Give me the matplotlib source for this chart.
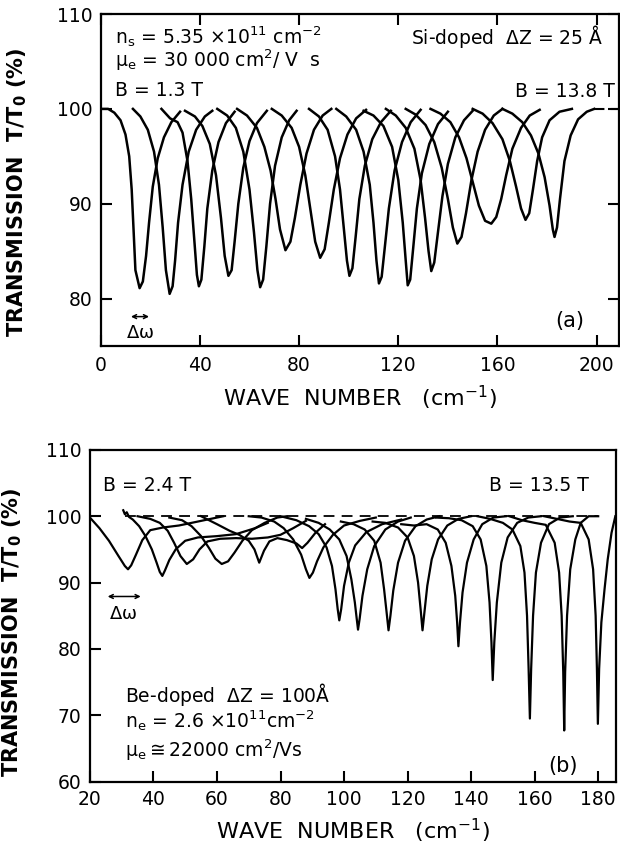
import matplotlib
matplotlib.use("Agg")
import matplotlib.pyplot as plt

plt.rcParams['font.family'] = ['DejaVu Sans']
plt.rcParams['mathtext.default'] = 'regular'

# ---- panel (a): Si-doped, dZ = 25 A, B = 1.3 T ... 13.8 T
a_wn = [
    [0, 3, 5.5, 8, 10, 11.5, 12.5, 13.3, 14, 15.7, 17, 18.3, 19.5, 21, 23, 25.5, 28.5, 32],
    [13, 16, 19, 21.5, 23.5, 25, 26.3, 27.8, 29, 30, 31.2, 33, 35.5, 38.5, 42, 45],
    [24.5, 28, 31, 33, 35, 36.5, 37.8, 38.8, 39.6, 40.6, 41.8, 43, 45, 47.5, 50.5, 54],
    [34, 38, 41, 44, 46.5, 48.5, 50, 51.5, 52.8, 54, 55.5, 57.5, 60, 63, 67],
    [47, 51, 54.5, 57.5, 60, 61.8, 63.2, 64.3, 65.5, 66.8, 68.3, 70.3, 73, 76, 79],
    [55, 59, 63, 66, 68.5, 70.5, 72.3, 74.5, 76.5, 78.3, 80.5, 83, 86, 89.5, 93],
    [69, 73, 77, 80, 82.5, 84.5, 86.5, 88.5, 90.3, 92, 94, 96.5, 99.5, 103, 107],
    [84, 88, 91.5, 94.5, 96.5, 98, 99.3, 100.3, 101.5, 102.8, 104.3, 106.5, 109.5, 113, 117],
    [95, 99, 103, 106, 108.5, 110, 111.2, 112.2, 113.3, 114.6, 116.2, 118.5, 121.5, 125, 129],
    [106, 110, 114, 117.5, 120, 121.8, 123, 123.8, 124.8, 126, 127.5, 129.5, 132.5, 136, 140],
    [115, 119, 123, 126.5, 129, 130.8, 132.2, 133.3, 134.5, 136, 137.8, 140, 143, 146.5, 150],
    [123, 127, 131, 134.5, 137.5, 140, 142, 143.8, 145.5, 147.3, 149.5, 152, 155, 158.5, 162],
    [133, 137, 141, 144.5, 147.5, 150, 152.5, 155, 157.5, 159.5, 161.5, 163.5, 166, 169.5, 173, 177],
    [150, 154, 158, 162, 165, 167.5, 169.5, 171.3, 172.8, 174.3, 176, 178, 181, 185, 190],
    [162, 166, 170, 173.5, 176.5, 179, 181, 182.3, 183, 184, 185.2, 187, 189.5, 192.5, 196, 199],
]
a_tr = [
    [100, 100, 99.6, 98.8, 97.3, 95, 91.5, 87, 83, 81.1, 81.8, 84.5, 88, 91.8, 94.8, 97, 98.6, 99.7],
    [100, 99.2, 97.8, 95.5, 92, 87.5, 83, 80.5, 81.3, 84, 88, 92, 95.5, 97.8, 99.2, 99.8],
    [100, 99, 98.6, 97.5, 94.5, 90.5, 86, 82.5, 81.3, 82, 85.5, 89.5, 93.5, 96.5, 98.5, 99.7],
    [99.8, 99.2, 98.2, 96.3, 93, 88.5, 84.5, 82.4, 83, 86, 90, 93.8, 96.6, 98.5, 99.8],
    [100, 99.3, 98, 95.5, 91.5, 87, 83, 81.2, 82, 85.5, 90, 94, 97, 98.8, 99.8],
    [100, 99.3, 98, 96, 93.5, 90.5, 87.3, 85.1, 86, 88.5, 92, 95.3, 97.8, 99.3, 100],
    [100, 99.3, 98, 96, 93, 89.5, 86, 84.3, 85.2, 88, 91.5, 94.8, 97.3, 99, 99.9],
    [100, 99.2, 97.8, 95, 91.5, 87.5, 84, 82.4, 83.2, 86.5, 90.5, 94, 96.8, 98.6, 99.8],
    [100, 99.2, 97.8, 95.5, 92, 88, 84, 81.6, 82.3, 85.5, 89.5, 93.5, 96.5, 98.6, 99.9],
    [99.8, 99.3, 98.2, 96, 92.5, 88, 84, 81.4, 82, 85.3, 89.5, 93.2, 96.3, 98.4, 99.7],
    [100, 99.3, 98, 95.8, 92.5, 88.5, 85, 82.9, 83.8, 87, 90.8, 94.2, 97, 98.8, 99.8],
    [100, 99.4, 98.3, 96.5, 93.8, 90.5, 87.5, 85.8, 86.5, 89, 92.5, 95.5, 97.8, 99.3, 100],
    [100, 99.5, 98.6, 97, 94.8, 92.3, 89.8, 88.2, 87.9, 88.6, 90.5, 93, 95.8, 98, 99.3, 99.9],
    [100, 99.5, 98.5, 96.8, 94.5, 91.8, 89.5, 88.3, 89, 91.5, 94.5, 97, 98.8, 99.7, 100],
    [100, 99.5, 98.6, 97.2, 95.3, 92.8, 89.8, 87.3, 86.5, 87.5, 90.5, 94.5, 97.2, 98.9, 99.7, 100],
]
a_base_wn = [199, 209]
a_base_tr = [100, 100]

# ---- panel (b): Be-doped, dZ = 100 A, B = 2.4 T ... 13.5 T
b_wn = [
    [20, 23, 26, 29, 31, 32, 33, 34.5, 36.5, 39, 43, 48, 53, 58, 62],
    [30.5, 31, 31.6, 32.3, 33.5, 35.5, 37.5, 39.5, 41, 42, 42.8, 43.6, 45, 47, 50, 54, 60, 66, 72, 76],
    [35, 39, 42, 44.5, 46.5, 48.5, 50.5, 52.5, 54.5, 57, 61, 66, 71, 76, 80, 84, 88],
    [45, 49, 52, 55, 57.5, 59.5, 61.5, 63.5, 65.5, 68, 71, 75, 79, 82],
    [55, 60, 64, 67, 70, 71.8, 73.3, 74.8, 76.5, 79, 82, 85, 86.8, 88.5, 91, 94],
    [70, 74, 78, 81, 84, 86.5, 88, 89.1, 90.2, 91.5, 93.5, 96.5, 100, 105, 110],
    [80, 85, 89, 92, 94.5, 96.2, 97.3, 98, 98.5, 99.1, 100, 101.5, 103.5, 107, 112, 118],
    [88, 92, 95.5, 98.5, 100.8, 102.3, 103.4, 104, 104.4, 104.9, 105.8, 107.3, 109.5, 113, 117, 121],
    [99, 103, 106.5, 109.5, 111.5, 112.6, 113.4, 114, 114.6, 115.5, 117, 119.2, 122.5, 126, 130],
    [109, 113, 117, 120, 122, 123.3, 124.1, 124.7, 125.3, 126.2, 127.6, 129.6, 132.5, 136, 140],
    [118, 122, 126, 129.5, 132, 133.8, 135, 135.6, 136, 136.5, 137.3, 138.7, 140.8, 143.5, 147, 151],
    [129, 133, 137, 140.5, 143, 144.8, 145.8, 146.4, 146.8, 147.3, 148.1, 149.5, 151.5, 154.5, 158, 162],
    [142, 146, 150, 153, 155.5, 156.8, 157.6, 158.1, 158.5, 158.9, 159.5, 160.4, 162, 164.5, 168, 172],
    [152, 156, 160, 163.5, 166.3, 167.7, 168.5, 169, 169.3, 169.6, 170.2, 171.2, 172.8, 174.5, 177, 180],
    [163, 167, 171, 174.5, 177, 178.4, 179.2, 179.6, 179.9, 180.3, 181, 182, 183, 184.2, 185.4],
]
b_tr = [
    [99.8, 98.2, 96.3, 94, 92.5, 92, 92.6, 94.2, 96.4, 97.9, 98.3, 98.6, 99.1, 99.6, 100],
    [100.9, 100.3, 100.6, 99.9, 99.5, 98.5, 97, 95, 93, 91.6, 91, 91.8, 93.4, 95, 96.3, 96.8, 97, 97.3, 98.2, 99],
    [100, 99.6, 99, 97.8, 96, 94, 92.8, 93.5, 95, 96.2, 96.6, 96.7, 96.6, 96.8, 97.2, 98.2, 99.3],
    [99.8, 99.4, 98.5, 97, 95.2, 93.6, 92.8, 93.2, 94.5, 96.3, 97.9, 99, 99.8, 100],
    [100, 98.8, 97.8, 97.2, 96.3, 95, 93, 94.8, 96.2, 96.7, 96.4, 95.9, 95.2, 96, 97.5, 98.8],
    [100, 99.8, 99.2, 98.2, 96.5, 94.2, 92, 90.7, 91.5, 93.2, 95.3, 97.2, 98.6, 99.3, 99.8],
    [100, 99.4, 98.5, 97.3, 95.3, 92.5, 89, 86, 84.3, 86, 89.5, 93, 95.6, 97.6, 98.8, 99.5],
    [99.6, 99, 98, 96.5, 94, 90.5, 87, 84.5, 82.9, 84.5, 88, 92, 95.5, 98, 99.2, 99.8],
    [99.2, 98.8, 98, 96.3, 93, 89, 85.5, 82.8, 85, 88.8, 93, 96.3, 98.5, 99.5, 100],
    [99.2, 99, 98.3, 96.8, 94, 90, 86, 82.8, 85.5, 89.5, 93.5, 96.5, 98.6, 99.6, 100],
    [98.8, 98.6, 98.8, 98, 96, 92.5, 88, 84, 80.4, 84, 88.5, 93, 96.5, 98.8, 99.8, 100],
    [99.8, 99.7, 99.4, 98.5, 96.5, 92.5, 87, 81, 75.3, 81, 87, 93, 96.8, 99, 99.8, 100],
    [100, 99.6, 99, 98, 95.5, 91.5, 85, 77, 69.5, 77, 85, 91.5, 96, 98.8, 99.8, 100],
    [100, 99.4, 99, 98.7, 96, 91.5, 85, 76.5, 67.7, 76.5, 85, 92, 96.5, 99, 100, 100],
    [100, 99.6, 99.2, 99, 96.5, 92, 85, 77, 68.7, 77, 84, 89, 93.5, 97.5, 100],
]
b_base_wn = [31, 180]
b_base_tr = [100, 100]

a_xticks = [0, 40, 80, 120, 160, 200]
a_yticks = [80, 90, 100, 110]
b_xticks = [20, 40, 60, 80, 100, 120, 140, 160, 180]
b_yticks = [60, 70, 80, 90, 100, 110]

ylab = 'TRANSMISSION  T/T$_0$ (%)'
xlab = 'WAVE  NUMBER   (cm$^{-1}$)'

fig = plt.figure(figsize=(6.2, 8.46), dpi=100)
ax1 = fig.add_axes([0.1624, 0.591, 0.836, 0.3924])
ax2 = fig.add_axes([0.145, 0.0762, 0.848, 0.392])

for x, y in zip(a_wn, a_tr):
    ax1.plot(x, y, color='black', lw=1.8, solid_joinstyle='round')
ax1.plot(a_base_wn, a_base_tr, color='black', lw=1.5, dashes=(5, 3))

for x, y in zip(b_wn, b_tr):
    ax2.plot(x, y, color='black', lw=1.6, solid_joinstyle='round')
ax2.plot(b_base_wn, b_base_tr, color='black', lw=1.3, dashes=(6, 4))

ax1.set_xlim(0, 209)
ax1.set_ylim(75, 110)
ax1.set_xticks(a_xticks)
ax1.set_yticks(a_yticks)
ax1.tick_params(direction='in', top=True, right=True, length=8, width=1.5,
                labelsize=13.5)
ax1.tick_params(axis='x', pad=7)
ax1.tick_params(axis='y', pad=6)

ax2.set_xlim(20, 185.5)
ax2.set_ylim(60, 110)
ax2.set_xticks(b_xticks)
ax2.set_yticks(b_yticks)
ax2.tick_params(direction='in', length=8, width=1.5, labelsize=13.5)
ax2.tick_params(axis='x', pad=6)
ax2.tick_params(axis='y', pad=6)

for ax in (ax1, ax2):
    for s in ax.spines.values():
        s.set_linewidth(1.6)

ax1.set_ylabel(ylab, fontsize=15, fontweight='bold')
ax1.yaxis.set_label_coords(-0.138, 0.464)
ax1.set_xlabel(xlab, fontsize=16, va='center')
ax1.xaxis.set_label_coords(0.5, -0.157)

ax2.set_ylabel(ylab, fontsize=15, fontweight='bold')
ax2.yaxis.set_label_coords(-0.125, 0.451)
ax2.set_xlabel(xlab, fontsize=16, va='center')
ax2.xaxis.set_label_coords(0.5, -0.149)

# annotations (a)
fs = 13.5
ax1.text(5.8, 107.6, r'n$_s$ = 5.35 $\times$10$^{11}$ cm$^{-2}$', fontsize=fs, va='center')
ax1.text(5.8, 105.1, r'$\mu_e$ = 30 000 cm$^2$/ V  s', fontsize=fs, va='center')
ax1.text(5.8, 101.9, 'B = 1.3 T', fontsize=fs, va='center')
ax1.text(202.5, 107.6, r'Si-doped  $\Delta$Z = 25 $\AA$', fontsize=fs, va='center', ha='right')
ax1.text(207.5, 101.8, 'B = 13.8 T', fontsize=fs, va='center', ha='right')
ax1.text(189, 77.6, '(a)', fontsize=15, va='center', ha='center')
ax1.annotate('', xy=(19.5, 78.1), xytext=(12.2, 78.1),
             arrowprops=dict(arrowstyle='<->', lw=1.1, color='black',
                             shrinkA=0, shrinkB=0, mutation_scale=7))
ax1.text(16.0, 76.4, r'$\Delta\omega$', fontsize=13, va='center', ha='center')

# annotations (b)
ax2.text(24.2, 104.7, 'B = 2.4 T', fontsize=fs, va='center')
ax2.text(177.2, 104.7, 'B = 13.5 T', fontsize=fs, va='center', ha='right')
ax2.text(31, 73.1, r'Be-doped  $\Delta$Z = 100$\AA$', fontsize=fs, va='center')
ax2.text(31, 69.2, r'n$_e$ = 2.6 $\times$10$^{11}$cm$^{-2}$', fontsize=fs, va='center')
ax2.text(31, 64.7, r'$\mu_e$$\cong$22000 cm$^2$/Vs', fontsize=fs, va='center')
ax2.text(169, 62.4, '(b)', fontsize=15, va='center', ha='center')
ax2.annotate('', xy=(36, 87.9), xytext=(25.6, 87.9),
             arrowprops=dict(arrowstyle='<->', lw=1.1, color='black',
                             shrinkA=0, shrinkB=0, mutation_scale=7))
ax2.text(30.5, 85.3, r'$\Delta\omega$', fontsize=13, va='center', ha='center')

fig.savefig('out.png', dpi=100)
